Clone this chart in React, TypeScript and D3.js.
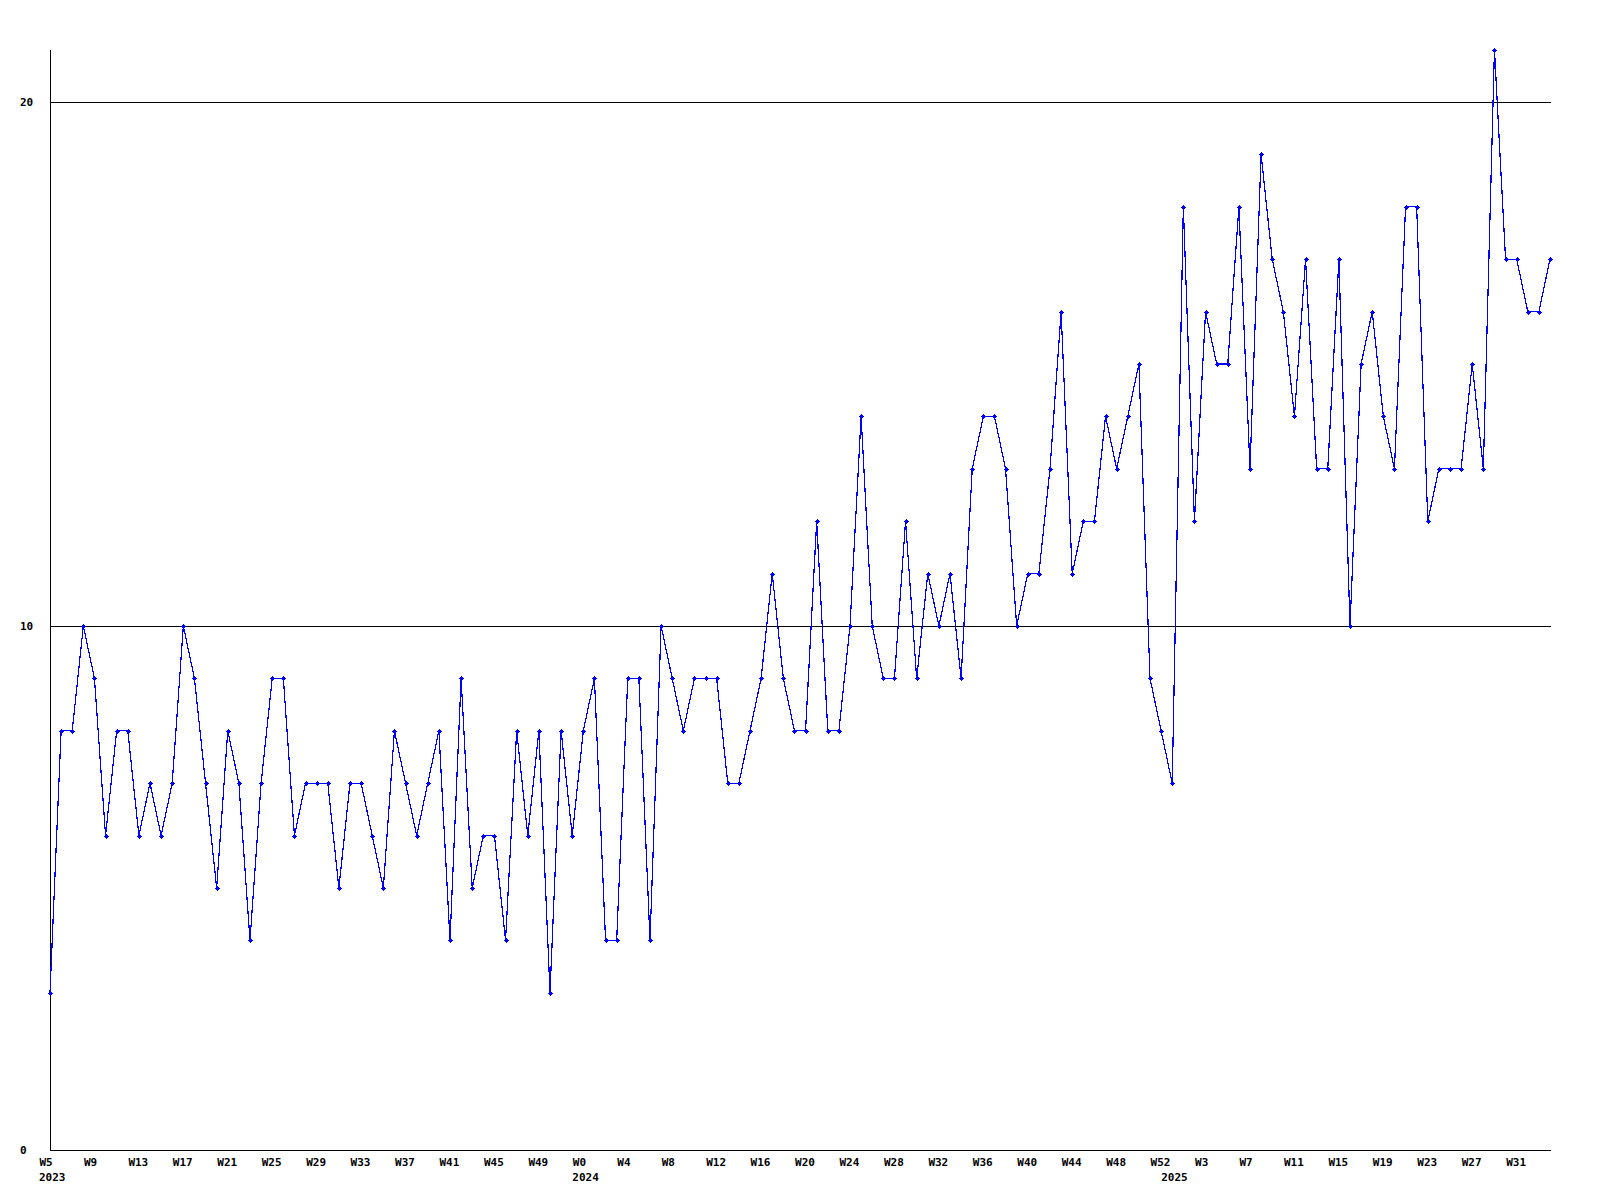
import React from "react";
import * as d3 from "d3";

// Weekly counts, one array per year
const years = [2023, 2024, 2025];
const firstWeeks = [5, 0, 0];
const counts2023 = [3, 8, 8, 10, 9, 6, 8, 8, 6, 7, 6, 7, 10, 9, 7, 5, 8, 7, 4, 7, 9, 9, 6, 7, 7, 7, 5, 7, 7, 6, 5, 8,
  7, 6, 7, 8, 4, 9, 5, 6, 6, 4, 8, 6, 8, 3, 8, 6];
const counts2024 = [8, 9, 4, 4, 9, 9, 4, 10, 9, 8, 9, 9, 9, 7, 7, 8, 9, 11, 9, 8, 8, 12, 8, 8, 10, 14, 10, 9, 9, 12, 9, 11,
  10, 11, 9, 13, 14, 14, 13, 10, 11, 11, 13, 16, 11, 12, 12, 14, 13, 14, 15, 9, 8];
const counts2025 = [7, 18, 12, 16, 15, 15, 18, 13, 19, 17, 16, 14, 17, 13, 13, 17, 10, 15, 16, 14, 13, 18, 18, 12, 13,
  13, 13, 15, 13, 21, 17, 17, 16, 16, 17];
const yTickValues = [0, 10, 20];
const gridValues = [10, 20];
const labelEvery = 4;

type Pt = { i: number; year: number; week: number; value: number; firstOfYear: boolean };

const seriesByYear = [counts2023, counts2024, counts2025];
const points: Pt[] = [];
seriesByYear.forEach((arr, yi) => {
  arr.forEach((v, k) => {
    points.push({ i: points.length, year: years[yi], week: firstWeeks[yi] + k, value: v, firstOfYear: k === 0 });
  });
});

export default function App() {
  const W = 1600, H = 1200;
  const left = 50, right = 1550, bottom = 1150;
  const yMax = d3.max(points, (d) => d.value) as number;
  const x = d3.scaleLinear().domain([0, points.length - 1]).range([left, right]);
  const y = d3.scaleLinear().domain([0, yMax]).range([bottom, bottom - yMax * 52.4]);
  const line = d3.line<Pt>().x((d) => x(d.i)).y((d) => y(d.value));
  const font = "'DejaVu Sans Mono', monospace";

  return (
    <svg width={W} height={H} style={{ position: "absolute", left: 0, top: 0, background: "#fff" }}>
      <rect x={0} y={0} width={W} height={H} fill="#fff" />
      {gridValues.map((g) => (
        <line key={g} x1={x(0)} x2={x(points.length - 1) + 1} y1={Math.round(y(g)) + 0.5} y2={Math.round(y(g)) + 0.5}
          stroke="#000" strokeWidth={1} shapeRendering="crispEdges" />
      ))}
      {/* axes */}
      <line x1={left + 0.5} x2={left + 0.5} y1={y(yMax)} y2={bottom + 0.5} stroke="#000" shapeRendering="crispEdges" />
      <line x1={left} x2={x(points.length - 1) + 1} y1={bottom + 0.5} y2={bottom + 0.5} stroke="#000" shapeRendering="crispEdges" />
      {yTickValues.map((t) => (
        <text key={t} x={20} y={y(t)} dy="0.35em" fontFamily={font} fontWeight="bold" fontSize={11} fill="#000">
          {t}
        </text>
      ))}
      <path d={line(points) || ""} fill="none" stroke="#0000ff" strokeWidth={1.2} shapeRendering="crispEdges" />
      {points.map((d) => {
        const cx = Math.round(x(d.i)) + 0.5;
        const cy = Math.round(y(d.value)) + 0.5;
        return (
          <g key={d.i}>
            <path d={`M${cx - 2.5},${cy}H${cx + 2.5}M${cx},${cy - 2.5}V${cy + 2.5}`}
              stroke="#0000ff" strokeWidth={1} fill="none" shapeRendering="crispEdges" />
            <rect x={cx - 1.5} y={cy - 1.5} width={3} height={3} fill="#0000ff" shapeRendering="crispEdges" />
          </g>
        );
      })}
      {points.filter((d) => d.i % labelEvery === 0).map((d) => (
        <text key={"w" + d.i} x={x(d.i) - 10.5} y={1166} fontFamily={font} fontWeight="bold" fontSize={11} fill="#000">
          {"W" + d.week}
        </text>
      ))}
      {points.filter((d) => d.firstOfYear).map((d) => (
        <text key={"y" + d.year} x={x(d.i) - 11} y={1181} fontFamily={font} fontWeight="bold" fontSize={11} fill="#000">
          {d.year}
        </text>
      ))}
    </svg>
  );
}
